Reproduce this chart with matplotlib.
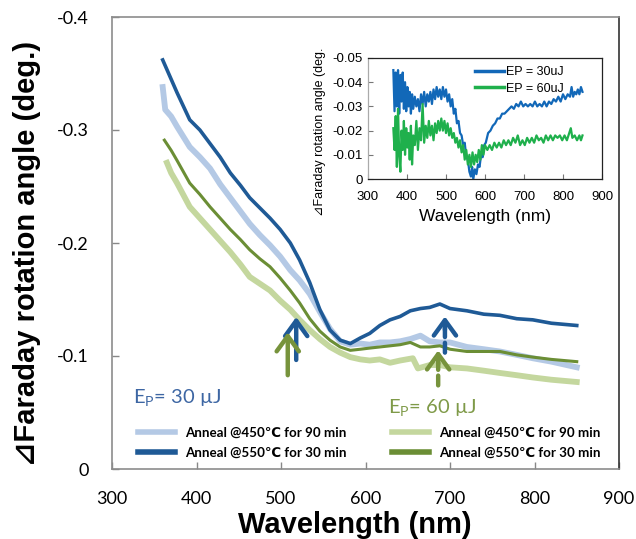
import matplotlib
matplotlib.use("Agg")
import matplotlib.pyplot as plt

plt.rcParams['axes.unicode_minus'] = False
plt.rcParams['mathtext.fontset'] = 'custom'
plt.rcParams['mathtext.rm'] = 'Lato'
plt.rcParams['mathtext.it'] = 'Lato'

# ---------------- main chart data ----------------
wl_db = [360, 377, 392, 404, 416, 428, 440, 452, 463, 475, 487, 499, 511, 522, 534, 546,
         558, 570, 582, 594, 605, 617, 629, 641, 653, 665, 676, 688, 700, 720, 740, 759,
         779, 798, 820, 850]
db_550_30 = [-0.362, -0.333, -0.309, -0.300, -0.288, -0.276, -0.262, -0.251, -0.240, -0.231,
             -0.222, -0.212, -0.200, -0.185, -0.165, -0.141, -0.123, -0.114, -0.111, -0.116,
             -0.120, -0.127, -0.132, -0.135, -0.140, -0.142, -0.143, -0.146, -0.142, -0.140,
             -0.137, -0.136, -0.133, -0.132, -0.129, -0.127]

wl_lb = [360, 363, 370, 377, 392, 404, 416, 428, 440, 452, 463, 475, 487, 499, 511, 522,
         534, 546, 558, 570, 582, 594, 605, 617, 629, 641, 653, 665, 676, 688, 700, 720,
         740, 759, 779, 798, 820, 850]
lb_450_90 = [-0.338, -0.318, -0.312, -0.303, -0.285, -0.276, -0.266, -0.252, -0.240, -0.228,
             -0.217, -0.207, -0.198, -0.188, -0.176, -0.167, -0.155, -0.139, -0.124, -0.113,
             -0.110, -0.111, -0.110, -0.112, -0.112, -0.113, -0.115, -0.118, -0.113, -0.112,
             -0.112, -0.108, -0.106, -0.104, -0.101, -0.098, -0.095, -0.090]

wl_dg = [362, 370, 377, 392, 404, 416, 428, 440, 452, 463, 475, 487, 499, 511, 522, 534,
         546, 558, 570, 582, 594, 605, 617, 629, 641, 653, 665, 676, 688, 700, 720, 740,
         759, 779, 798, 820, 850]
dg_550_30 = [-0.291, -0.282, -0.273, -0.253, -0.243, -0.232, -0.222, -0.212, -0.203, -0.194,
             -0.186, -0.179, -0.169, -0.158, -0.147, -0.133, -0.122, -0.114, -0.108, -0.105,
             -0.106, -0.107, -0.108, -0.109, -0.110, -0.112, -0.108, -0.108, -0.109, -0.106,
             -0.104, -0.104, -0.104, -0.101, -0.099, -0.097, -0.095]

wl_lg = [365, 370, 377, 392, 404, 416, 428, 440, 452, 463, 475, 487, 499, 511, 522, 534,
         546, 558, 570, 582, 594, 605, 617, 629, 641, 656, 662, 676, 688, 700, 720, 740,
         759, 779, 798, 820, 850]
lg_450_90 = [-0.271, -0.262, -0.253, -0.232, -0.222, -0.212, -0.202, -0.192, -0.181, -0.170,
             -0.164, -0.158, -0.149, -0.141, -0.132, -0.123, -0.115, -0.108, -0.103, -0.099,
             -0.097, -0.096, -0.097, -0.094, -0.096, -0.098, -0.089, -0.092, -0.092, -0.090,
             -0.089, -0.087, -0.085, -0.083, -0.081, -0.079, -0.077]

legend_labels = ["Anneal @450\u2103 for 90 min", "Anneal @550\u2103 for 30 min"]
main_xticks = [300, 400, 500, 600, 700, 800, 900]
main_yticks = [-0.4, -0.3, -0.2, -0.1, 0]
main_yticklabels = ["-0.4", "-0.3", "-0.2", "-0.1", "0"]

# ---------------- inset data ----------------
wl_in_30 = [365, 368, 371, 374, 377, 380, 383, 386, 389, 392, 395, 398, 401, 404, 407, 410,
            413, 416, 420, 424, 428, 432, 436, 440, 444, 448, 452, 456, 460, 464, 468, 472,
            476, 480, 484, 488, 492, 496, 500, 504, 508, 512, 516, 520, 524, 528, 532, 536,
            540, 544, 548, 552, 556, 560, 564, 567, 570, 574, 578, 582, 586, 590, 594, 598,
            602, 608, 614, 620, 626, 632, 638, 644, 650, 656, 662, 668, 674, 680, 686, 692,
            698, 704, 710, 716, 722, 728, 734, 740, 746, 752, 758, 764, 770, 776, 782, 788,
            794, 800, 806, 812, 818, 822, 826, 830, 834, 838, 842, 846, 850]
ep_30 = [-0.045, -0.028, -0.044, -0.030, -0.045, -0.027, -0.043, -0.032, -0.044, -0.029,
         -0.040, -0.028, -0.038, -0.030, -0.036, -0.027, -0.035, -0.029, -0.034, -0.030,
         -0.033, -0.028, -0.035, -0.031, -0.036, -0.030, -0.035, -0.032, -0.036, -0.031,
         -0.037, -0.033, -0.038, -0.034, -0.037, -0.033, -0.038, -0.034, -0.037, -0.032,
         -0.035, -0.030, -0.033, -0.027, -0.029, -0.023, -0.024, -0.019, -0.018, -0.014,
         -0.015, -0.009, -0.008, -0.003, -0.001, -0.005, -0.000, -0.004, -0.002, -0.006,
         -0.005, -0.010, -0.009, -0.014, -0.015, -0.019, -0.020, -0.022, -0.023, -0.025,
         -0.025, -0.027, -0.027, -0.028, -0.029, -0.030, -0.029, -0.031, -0.030, -0.032,
         -0.030, -0.031, -0.030, -0.031, -0.030, -0.032, -0.030, -0.031, -0.030, -0.032,
         -0.030, -0.032, -0.031, -0.033, -0.032, -0.034, -0.032, -0.035, -0.033, -0.035,
         -0.034, -0.038, -0.034, -0.036, -0.035, -0.037, -0.035, -0.038, -0.036]

wl_in_60 = [365, 368, 371, 374, 377, 380, 383, 386, 389, 392, 395, 398, 401, 404, 407, 410,
            413, 416, 420, 424, 428, 432, 436, 440, 444, 448, 452, 456, 460, 464, 468, 472,
            476, 480, 484, 488, 492, 496, 500, 504, 508, 512, 516, 520, 524, 528, 532, 536,
            540, 544, 548, 552, 556, 560, 564, 568, 572, 576, 580, 584, 588, 592, 596, 600,
            606, 612, 618, 624, 630, 636, 642, 648, 654, 660, 666, 672, 678, 684, 690, 696,
            702, 708, 714, 720, 726, 732, 738, 744, 750, 756, 762, 768, 774, 780, 786, 792,
            798, 804, 810, 816, 820, 824, 830, 836, 842, 846, 850]
ep_60 = [-0.021, -0.012, -0.026, -0.005, -0.029, -0.010, -0.003, -0.020, -0.012, -0.024,
         -0.010, -0.021, -0.013, -0.019, -0.008, -0.022, -0.006, -0.018, -0.014, -0.024,
         -0.012, -0.021, -0.016, -0.031, -0.015, -0.022, -0.017, -0.024, -0.018, -0.022,
         -0.016, -0.023, -0.019, -0.024, -0.020, -0.025, -0.020, -0.024, -0.019, -0.023,
         -0.018, -0.021, -0.017, -0.019, -0.015, -0.017, -0.013, -0.016, -0.011, -0.014,
         -0.008, -0.012, -0.006, -0.010, -0.005, -0.011, -0.006, -0.010, -0.007, -0.012,
         -0.008, -0.014, -0.010, -0.014, -0.012, -0.014, -0.012, -0.015, -0.013, -0.015,
         -0.013, -0.016, -0.014, -0.016, -0.014, -0.017, -0.015, -0.018, -0.014, -0.016,
         -0.014, -0.017, -0.015, -0.017, -0.015, -0.018, -0.016, -0.017, -0.015, -0.018,
         -0.016, -0.018, -0.016, -0.018, -0.017, -0.018, -0.016, -0.018, -0.016, -0.019,
         -0.021, -0.017, -0.018, -0.016, -0.018, -0.016, -0.018]
inset_labels = ["EP = 30uJ", "EP = 60uJ"]
inset_xticks = [300, 400, 500, 600, 700, 800, 900]
inset_yticks = [0, -0.01, -0.02, -0.03, -0.04, -0.05]
inset_yticklabels = ["0", "-0.01", "-0.02", "-0.03", "-0.04", "-0.05"]

# ---------------- colours ----------------
C_DB = '#1f5a96'
C_LB = '#b4c9e5'
C_DG = '#6b8e35'
C_LG = '#c4d79e'
C_IN30 = '#1268b8'
C_IN60 = '#1fb04c'

W, H = 636, 539
fig = plt.figure(figsize=(W / 100, H / 100), dpi=100)
ax = fig.add_axes([112 / W, 1 - 469 / H, 507 / W, 452 / H])

l_lb, = ax.plot(wl_lb, lb_450_90, color=C_LB, lw=4.2)
l_lg, = ax.plot(wl_lg, lg_450_90, color=C_LG, lw=4.2)
l_dg, = ax.plot(wl_dg, dg_550_30, color=C_DG, lw=2.2)
l_db, = ax.plot(wl_db, db_550_30, color=C_DB, lw=2.6)

ax.set_xlim(300, 900)
ax.set_ylim(0, -0.4)
ax.set_xticks(main_xticks)
ax.set_xticklabels([str(v) for v in main_xticks], fontfamily='Lato', fontsize=13)
ax.set_yticks(main_yticks)
ax.set_yticklabels(main_yticklabels, fontfamily='Lato', fontsize=13)
ax.tick_params(axis='x', direction='in', length=5, width=1, color='#888888', pad=16)
ax.tick_params(axis='y', direction='in', length=5, width=1, color='#888888', pad=17)
for s in ['left', 'bottom', 'top']:
    ax.spines[s].set_color('#8c8c8c')
    ax.spines[s].set_linewidth(1.2)
ax.spines['right'].set_color('#333333')
ax.spines['right'].set_linewidth(1.2)

ax.set_xlabel("Wavelength (nm)", fontsize=21, fontweight='bold',
              family=['Liberation Sans', 'DejaVu Sans'], va='center')
ax.xaxis.set_label_coords(0.478, -0.124)
ax.set_ylabel("\u22bfFaraday rotation angle (deg.)", fontsize=21, fontweight='bold',
              family=['Liberation Sans', 'DejaVu Sans'], va='center')
ax.yaxis.set_label_coords(-0.168, 0.478)

# energy labels
ax.text((133 - 112) / 507, (469 - 398) / 452, r"$\mathrm{E_P}$= 30 " + "\u00b5J",
        color='#3d66a3', fontsize=14.5, family=['Lato', 'DejaVu Sans'],
        va='center', ha='left', transform=ax.transAxes)
ax.text((388 - 112) / 507, (469 - 407) / 452, r"$\mathrm{E_P}$= 60 " + "\u00b5J",
        color='#7f9a48', fontsize=14.5, family=['Lato', 'DejaVu Sans'],
        va='center', ha='left', transform=ax.transAxes)

# legends
leg_kw = dict(frameon=False, loc='center left', handlelength=2.8, handletextpad=0.7,
              labelspacing=0.6, borderpad=0, borderaxespad=0,
              prop={'family': ['Lato', 'DejaVu Sans'], 'weight': 'bold', 'size': 9.6})
leg1 = ax.legend([l_lb, l_db], legend_labels, bbox_to_anchor=((138 - 112) / 507, 0.0575), **leg_kw)
for h in leg1.get_lines():
    h.set_linewidth(4)
ax.add_artist(leg1)
leg2 = ax.legend([l_lg, l_dg], legend_labels, bbox_to_anchor=((392 - 112) / 507, 0.0575), **leg_kw)
for h in leg2.get_lines():
    h.set_linewidth(4)

# arrows
def up_arrow(x, y0, y1, color, dashed=False):
    if dashed:
        ax.annotate('', xy=(x, y1 + 0.006), xytext=(x, y0),
                    arrowprops=dict(arrowstyle='-', color=color, lw=3.2,
                                    linestyle=(0, (2.2, 1.3)), shrinkA=0, shrinkB=0))
        ax.annotate('', xy=(x, y1), xytext=(x, y1 + 0.012),
                    arrowprops=dict(arrowstyle='->,head_length=0.55,head_width=0.4', color=color,
                                    lw=3.2, shrinkA=0, shrinkB=0, mutation_scale=20))
    else:
        ax.annotate('', xy=(x, y1), xytext=(x, y0),
                    arrowprops=dict(arrowstyle='->,head_length=0.55,head_width=0.4', color=color,
                                    lw=3.2, shrinkA=0, shrinkB=0, mutation_scale=20))

up_arrow(518, -0.0965, -0.1345, C_DB)
up_arrow(508, -0.083, -0.121, '#77933c')
up_arrow(694, -0.103, -0.135, C_DB, dashed=True)
up_arrow(686, -0.074, -0.105, '#77933c', dashed=True)

# ---------------- inset ----------------
axi = fig.add_axes([368 / W, 1 - 179 / H, 234 / W, 121 / H])
li30, = axi.plot(wl_in_30, ep_30, color=C_IN30, lw=1.6)
li60, = axi.plot(wl_in_60, ep_60, color=C_IN60, lw=1.6)
axi.set_xlim(300, 900)
axi.set_ylim(0, -0.05)
axi.set_xticks(inset_xticks)
axi.set_xticklabels([str(v) for v in inset_xticks], family='Liberation Sans', fontsize=9.5)
axi.set_yticks(inset_yticks)
axi.set_yticklabels(inset_yticklabels, family='Liberation Sans', fontsize=9.5)
axi.tick_params(axis='both', direction='in', length=3.5, width=0.8, color='#777777')
axi.tick_params(axis='x', pad=9)
axi.tick_params(axis='y', pad=4)
for s in ['left', 'bottom', 'top', 'right']:
    axi.spines[s].set_color('#222222')
    axi.spines[s].set_linewidth(0.9)
axi.spines['left'].set_color('#aaaaaa')
axi.set_xlabel("Wavelength (nm)", fontsize=12.5, family='Liberation Sans', labelpad=4)
axi.set_ylabel("\u22bfFaraday rotation angle (deg.", fontsize=9,
               family=['Liberation Sans', 'DejaVu Sans'], va='center')
axi.yaxis.set_label_coords((320 - 368) / 234, (179 - 132) / 121)
axi.legend([li30, li60], inset_labels, frameon=False, loc='center left',
           bbox_to_anchor=((475 - 368) / 234, (179 - 80.5) / 121),
           handlelength=2.3, handletextpad=0.2, labelspacing=0.35, borderpad=0,
           borderaxespad=0, prop={'family': 'Liberation Sans', 'size': 9})
for h in axi.get_legend().get_lines():
    h.set_linewidth(2.5)

fig.savefig('out.png', dpi=100)
